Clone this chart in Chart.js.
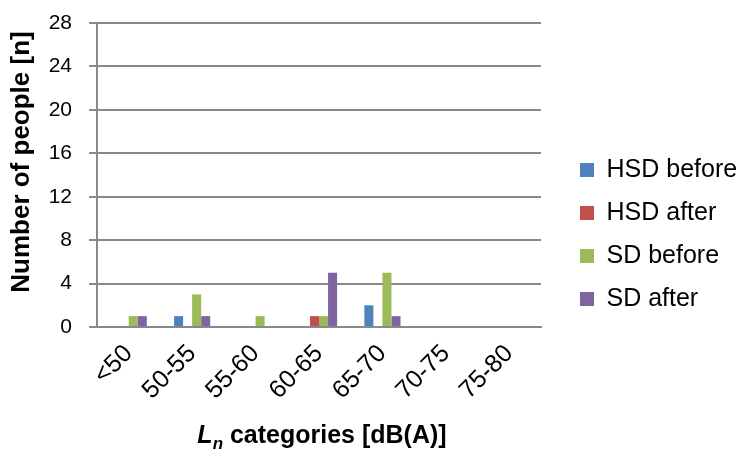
<!DOCTYPE html>
<html lang="en">
<head>
    <meta charset="UTF-8">
    <title>Number of people per Ln category</title>
    <style>
        body {
            margin: 0;
            background-color: #ffffff;
        }
        #chart-box {
            width: 742px;
            height: 453px;
        }
    </style>
</head>
<body>
    <div id="chart-box">
        <canvas id="barChart"></canvas>
    </div>

    <script src="https://cdn.jsdelivr.net/npm/chart.js"></script>

    <script>
        // categories on the x axis
        const categories = ['<50', '50-55', '55-60', '60-65', '65-70', '70-75', '75-80'];

        // number of people in each category, per group
        const hsdBefore = [0, 1, 0, 0, 2, 0, 0];
        const hsdAfter = [0, 0, 0, 1, 0, 0, 0];
        const sdBefore = [1, 3, 1, 1, 5, 0, 0];
        const sdAfter = [1, 1, 0, 5, 1, 0, 0];

        const yMin = 0;
        const yMax = 28;
        const yStep = 4;

        const fontName = "'Liberation Sans', Arial, sans-serif";
        const gridColor = '#898989';

        // legend sits in a fixed 201px column, with a gap before the first box
        const legendColumn = {
            id: 'legendColumn',
            beforeLayout(chart) {
                const lg = chart.legend;
                if (lg && !lg._wrapped) {
                    const fit = lg.fit;
                    lg.fit = function () {
                        fit.call(this);
                        this.width = 201;
                    };
                    lg._wrapped = true;
                }
            },
            afterLayout(chart) {
                const lg = chart.legend;
                lg.left = chart.chartArea.right + 21;
                lg.top += 8;
                lg.bottom += 8;
            }
        };

        // axis titles drawn by hand (the x one has an italic L with subscript n)
        const axisTitles = {
            id: 'axisTitles',
            afterDraw(chart) {
                const ctx = chart.ctx;
                const area = chart.chartArea;
                ctx.save();
                ctx.fillStyle = '#000000';

                // y title
                ctx.save();
                ctx.translate(22, 162);
                ctx.rotate(-Math.PI / 2);
                ctx.font = 'bold 26px ' + fontName;
                ctx.textAlign = 'center';
                ctx.textBaseline = 'middle';
                ctx.fillText('Number of people [n]', 0, 0);
                ctx.restore();

                // x title
                const baseY = 443;
                const parts = [
                    { text: 'L', font: 'italic bold 25px ' + fontName, dy: 0 },
                    { text: 'n', font: 'italic bold 17px ' + fontName, dy: 6 },
                    { text: ' categories [dB(A)]', font: 'bold 25px ' + fontName, dy: 0 }
                ];
                let total = 0;
                parts.forEach((p) => {
                    ctx.font = p.font;
                    p.w = ctx.measureText(p.text).width;
                    total += p.w;
                });
                let x = (area.left + area.right) / 2 + 3 - total / 2;
                ctx.textBaseline = 'alphabetic';
                ctx.textAlign = 'left';
                parts.forEach((p) => {
                    ctx.font = p.font;
                    ctx.fillText(p.text, x, baseY + p.dy);
                    x += p.w;
                });
                ctx.restore();
            }
        };

        const ctx = document.getElementById('barChart').getContext('2d');
        const barChart = new Chart(ctx, {
            type: 'bar',
            data: {
                labels: categories,
                datasets: [
                    { label: 'HSD before', data: hsdBefore, backgroundColor: '#4F81BD' },
                    { label: 'HSD after', data: hsdAfter, backgroundColor: '#C0504D' },
                    { label: 'SD before', data: sdBefore, backgroundColor: '#9BBB59' },
                    { label: 'SD after', data: sdAfter, backgroundColor: '#8064A2' }
                ]
            },
            options: {
                responsive: true,
                maintainAspectRatio: false,
                animation: false,
                devicePixelRatio: 1,
                layout: {
                    padding: { top: 0, right: 0, bottom: 0, left: 0 }
                },
                datasets: {
                    bar: {
                        categoryPercentage: 0.57,
                        barPercentage: 1.0
                    }
                },
                plugins: {
                    tooltip: { enabled: false },
                    legend: {
                        position: 'right',
                        labels: {
                            color: '#000000',
                            font: { family: fontName, size: 25 },
                            boxWidth: 14,
                            boxHeight: 14,
                            padding: 18
                        }
                    }
                },
                scales: {
                    x: {
                        grid: { display: false, drawTicks: false },
                        border: { display: true, color: gridColor, width: 2 },
                        ticks: {
                            color: '#000000',
                            font: { family: fontName, size: 25 },
                            minRotation: 45,
                            maxRotation: 45,
                            padding: 12
                        },
                        afterFit(scale) {
                            scale.height = 126;
                        }
                    },
                    y: {
                        min: yMin,
                        max: yMax,
                        grid: { color: gridColor, lineWidth: 2, tickLength: 8 },
                        border: { display: true, color: gridColor, width: 2 },
                        ticks: {
                            stepSize: yStep,
                            color: '#000000',
                            font: { family: fontName, size: 21 },
                            padding: 17
                        },
                        afterFit(scale) {
                            scale.width = 97;
                            scale.paddingTop = 23;
                            scale.paddingBottom = 0;
                        }
                    }
                }
            },
            plugins: [axisTitles, legendColumn]
        });
    </script>
</body>
</html>
